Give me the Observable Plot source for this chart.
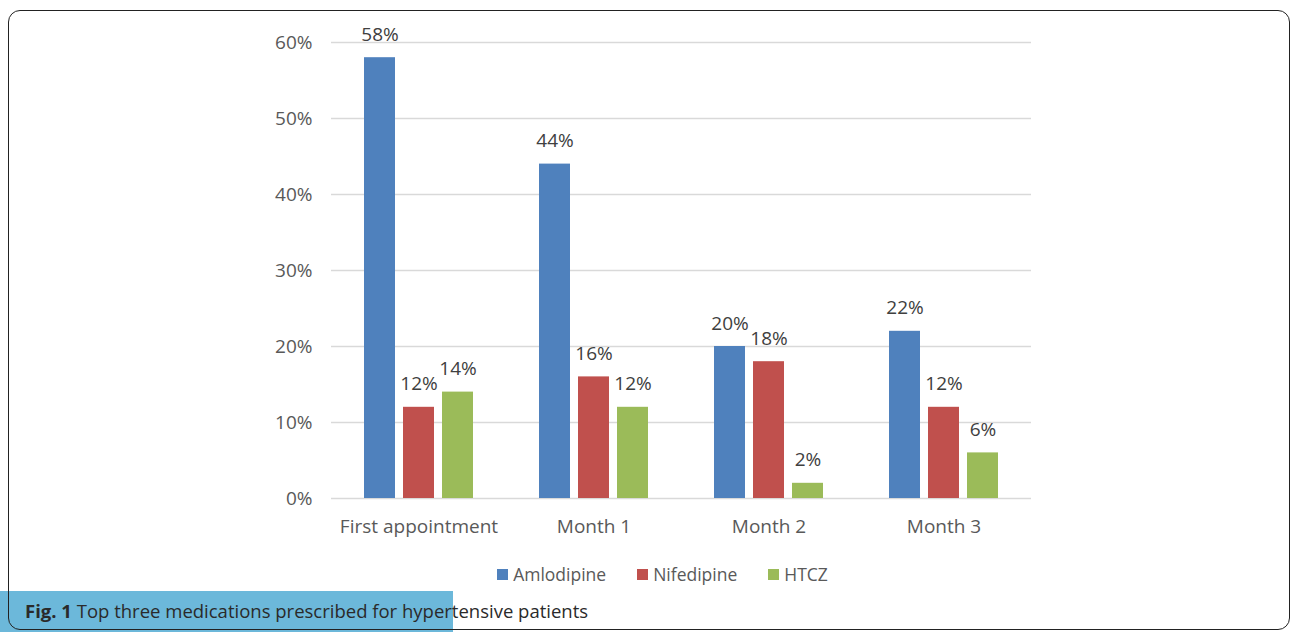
<!DOCTYPE html>
<html>
<head>
<meta charset="utf-8">
<script src="https://cdn.jsdelivr.net/npm/d3@7"></script>
<script src="https://cdn.jsdelivr.net/npm/@observablehq/plot@0.6"></script>
<style>
  html, body { margin: 0; padding: 0; background: #fff; }
  body { width: 1295px; height: 634px; position: relative; overflow: hidden; font-family: "Open Sans", sans-serif; }
  #frame { position: absolute; left: 8px; top: 10px; width: 1282px; height: 620px; border: 1.5px solid #222; border-radius: 12px; box-sizing: border-box; }
  #chart { position: absolute; left: 0; top: 0; }
  #legend { position: absolute; top: 562px; left: 0; width: 1295px; display: flex; justify-content: center; gap: 31px; padding-left: 30px; box-sizing: border-box; font-size: 17.5px; color: #595959; }
  #legend .item { display: flex; align-items: center; }
  #legend .sw { width: 11px; height: 11px; margin-right: 5px; }
  #capbox { position: absolute; left: 0; top: 591px; width: 453px; height: 41px; background: #6cb8da; }
  #caption { position: absolute; left: 25px; top: 598px; font-size: 18.5px; color: #2a2a2a; white-space: nowrap; }
</style>
</head>
<body>
<div id="capbox"></div>
<div id="frame"></div>
<div id="chart"></div>
<div id="legend"></div>
<div id="caption"><b>Fig. 1</b> Top three medications prescribed for hypertensive patients</div>
<script>
const categories = ["First appointment", "Month 1", "Month 2", "Month 3"];
const series = ["Amlodipine", "Nifedipine", "HTCZ"];
const colors = ["#4f81bd", "#c0504d", "#9bbb59"];
const amlodipine = [58, 44, 20, 22];
const nifedipine = [12, 16, 18, 12];
const htcz = [14, 12, 2, 6];
const yTicks = [0, 10, 20, 30, 40, 50, 60];

const seriesValues = [amlodipine, nifedipine, htcz];
const data = [];
categories.forEach((c, i) => series.forEach((s, j) => data.push({group: c, series: s, value: seriesValues[j][i]})));

const font = "Open Sans, sans-serif";
const plot = Plot.plot({
  width: 1295,
  height: 550,
  marginLeft: 331,
  marginRight: 264,
  marginTop: 42,
  marginBottom: 52,
  style: {fontFamily: font, fontSize: "19px", color: "#595959", background: "transparent"},
  fx: {domain: categories, padding: 0, label: null, axis: null},
  x: {domain: series, paddingInner: 0.2, paddingOuter: 0.8, axis: null},
  y: {domain: [0, 60], axis: null},
  color: {domain: series, range: colors},
  marks: [
    Plot.gridY(yTicks, {stroke: "#d9d9d9", strokeOpacity: 1, strokeWidth: 1.3}),
    Plot.axisY(yTicks, {tickSize: 0, tickPadding: 19, tickFormat: d => d + "%", label: null, fill: "#595959", fontSize: 19}),
    Plot.axisFx({anchor: "bottom", tickSize: 0, tickPadding: 21, label: null, fill: "#595959", fontSize: 19}),
    Plot.barY(data, {fx: "group", x: "series", y: "value", fill: "series"}),
    Plot.text(data, {fx: "group", x: "series", y: "value", text: d => d.value + "%", lineAnchor: "bottom", dy: -17, fill: "#404040", fontSize: 19})
  ]
});
document.getElementById("chart").appendChild(plot);

const legend = document.getElementById("legend");
series.forEach((s, i) => {
  const item = document.createElement("div");
  item.className = "item";
  item.innerHTML = `<div class="sw" style="background:${colors[i]}"></div><span>${s}</span>`;
  legend.appendChild(item);
});
</script>
</body>
</html>
